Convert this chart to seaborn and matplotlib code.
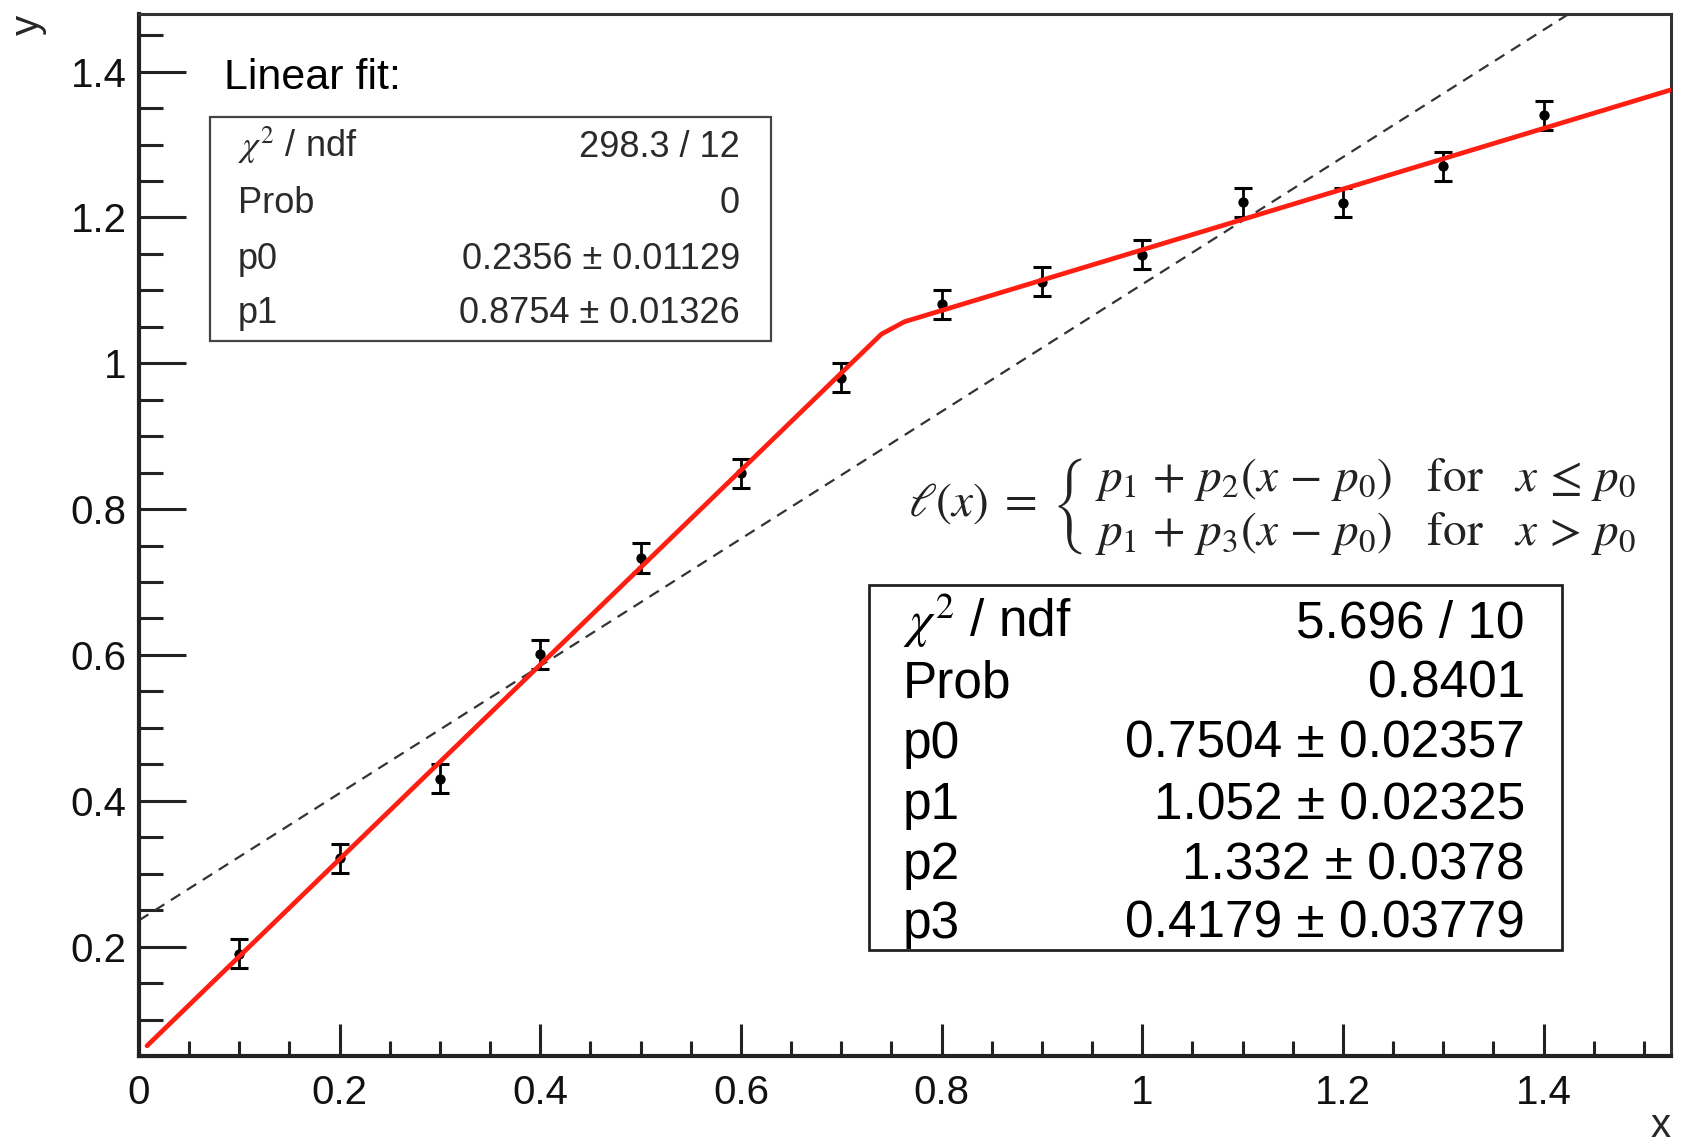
import matplotlib
matplotlib.use('Agg')
import matplotlib.pyplot as plt
import matplotlib.ticker as mticker
from matplotlib.patches import Rectangle
import seaborn as sns

# ---- data ----
x_pts = [0.1, 0.2, 0.3, 0.4, 0.5, 0.6, 0.7, 0.8, 0.9, 1.0, 1.1, 1.2, 1.3, 1.4]
y_pts = [0.190, 0.321, 0.430, 0.601, 0.733, 0.849, 0.980, 1.081, 1.112, 1.149,
         1.221, 1.220, 1.270, 1.340]
y_err = [0.020, 0.020, 0.020, 0.020, 0.020, 0.020, 0.020, 0.020, 0.020, 0.020,
         0.020, 0.020, 0.020, 0.020]

# broken-line fit (red), knots as drawn
fit_x = [0.008, 0.740, 0.763, 1.527]
fit_y = [0.064, 1.040, 1.057, 1.375]

# plain linear fit (dashed)
lin_x = [0.0, 1.425]
lin_y = [0.236, 1.479]

# stat boxes
lin_names = [r'$\chi^2$ / ndf', 'Prob', 'p0', 'p1']
lin_vals = ['298.3 / 12', '0', '0.2356 ± 0.01129', '0.8754 ± 0.01326']
brk_names = [r'$\chi^2$ / ndf', 'Prob', 'p0', 'p1', 'p2', 'p3']
brk_vals = ['5.696 / 10', '0.8401', '0.7504 ± 0.02357', '1.052 ± 0.02325',
            '1.332 ± 0.0378', '0.4179 ± 0.03779']

x_ticks = [0, 0.2, 0.4, 0.6, 0.8, 1.0, 1.2, 1.4]
y_ticks = [0.2, 0.4, 0.6, 0.8, 1.0, 1.2, 1.4]

# ---- style ----
sns.set_theme(style='white')
plt.rcParams['font.family'] = ['Liberation Sans', 'DejaVu Sans']
plt.rcParams['mathtext.fontset'] = 'stix'

W, H = 1683, 1144
fig = plt.figure(figsize=(W / 100, H / 100), dpi=100)


def fx(px):
    return px / W


def fy(py):
    return 1 - py / H


ax = fig.add_axes([fx(139), fy(1056), fx(1671) - fx(139), fy(14) - fy(1056)])

# 数据点与误差棒
ax.errorbar(x_pts, y_pts, yerr=y_err, fmt='none', ecolor='black',
            elinewidth=2.0, capsize=6.5, capthick=2.2, zorder=3)
sns.scatterplot(x=x_pts, y=y_pts, ax=ax, color='black', s=55,
                edgecolor='black', linewidth=0, zorder=4)

# 拟合曲线
sns.lineplot(x=lin_x, y=lin_y, ax=ax, color='#333333', linewidth=1.6,
             linestyle=(0, (5, 3.5)), sort=False, estimator=None, zorder=2)
sns.lineplot(x=fit_x, y=fit_y, ax=ax, color='#ff1e12', linewidth=3.4,
             sort=False, estimator=None, zorder=5)

ax.set_xlim(0, 1.527)
ax.set_ylim(0.05, 1.479)
ax.set_xticks(x_ticks)
ax.set_yticks(y_ticks)
ax.xaxis.set_minor_locator(mticker.MultipleLocator(0.05))
ax.yaxis.set_minor_locator(mticker.MultipleLocator(0.05))
fmt = mticker.FuncFormatter(lambda v, p: f'{v:g}')
ax.xaxis.set_major_formatter(fmt)
ax.yaxis.set_major_formatter(fmt)

ax.tick_params(which='both', direction='in', left=True, bottom=True,
               top=False, right=False,
               color='#222222', width=2.2, labelcolor='#111111')
ax.tick_params(axis='y', which='major', length=34, pad=9, labelsize=29)
ax.tick_params(axis='y', which='minor', length=17)
ax.tick_params(axis='x', which='major', length=23, pad=13, labelsize=29)
ax.tick_params(axis='x', which='minor', length=11)

for side in ['left', 'bottom']:
    ax.spines[side].set_linewidth(3.0)
    ax.spines[side].set_color('#222222')
for side in ['top', 'right']:
    ax.spines[side].set_linewidth(2.2)
    ax.spines[side].set_color('#333333')

ax.set_xlabel('x', fontsize=29, loc='right')
ax.xaxis.set_label_coords(1.0, -0.049)
ax.set_ylabel('y', fontsize=29, loc='top')
ax.yaxis.set_label_coords(-0.060, 0.999)
ax.grid(False)

# ---- annotations ----
fig.text(fx(224), fy(89), 'Linear fit:', fontsize=31, color='black',
         ha='left', va='baseline')

box1 = Rectangle((fx(210), fy(341)), fx(771) - fx(210), fy(117) - fy(341),
                 transform=fig.transFigure, facecolor='white',
                 edgecolor='#444444', linewidth=1.6, zorder=6)
fig.patches.append(box1)
for name, val, base in zip(lin_names, lin_vals, [157, 213, 269, 323]):
    fig.text(fx(238), fy(base), name, fontsize=26, color='#2a2a2a',
             ha='left', va='baseline', zorder=7)
    fig.text(fx(740), fy(base), val, fontsize=26, color='#2a2a2a',
             ha='right', va='baseline', zorder=7)

box2 = Rectangle((fx(869), fy(950)), fx(1562) - fx(869), fy(585) - fy(950),
                 transform=fig.transFigure, facecolor='white',
                 edgecolor='#222222', linewidth=2.0, zorder=6)
fig.patches.append(box2)
for name, val, base in zip(brk_names, brk_vals, [637, 698, 758, 819, 879, 938]):
    fig.text(fx(903), fy(base), name, fontsize=37, color='black',
             ha='left', va='baseline', zorder=7)
    fig.text(fx(1525), fy(base), val, fontsize=37, color='black',
             ha='right', va='baseline', zorder=7)

formula = (r'$\ell(x)\;=\;\left\{\;\genfrac{}{}{0}{0}'
           r'{p_1\,+\,p_2(x\,-\,p_0)\quad\mathrm{for}\quad x\,\leq\,p_0}'
           r'{p_1\,+\,p_3(x\,-\,p_0)\quad\mathrm{for}\quad x\,>\,p_0}\right.$')
fig.text(fx(908), fy(507), formula, fontsize=34, color='#222222',
         ha='left', va='center')

fig.savefig('out.png', dpi=100)
